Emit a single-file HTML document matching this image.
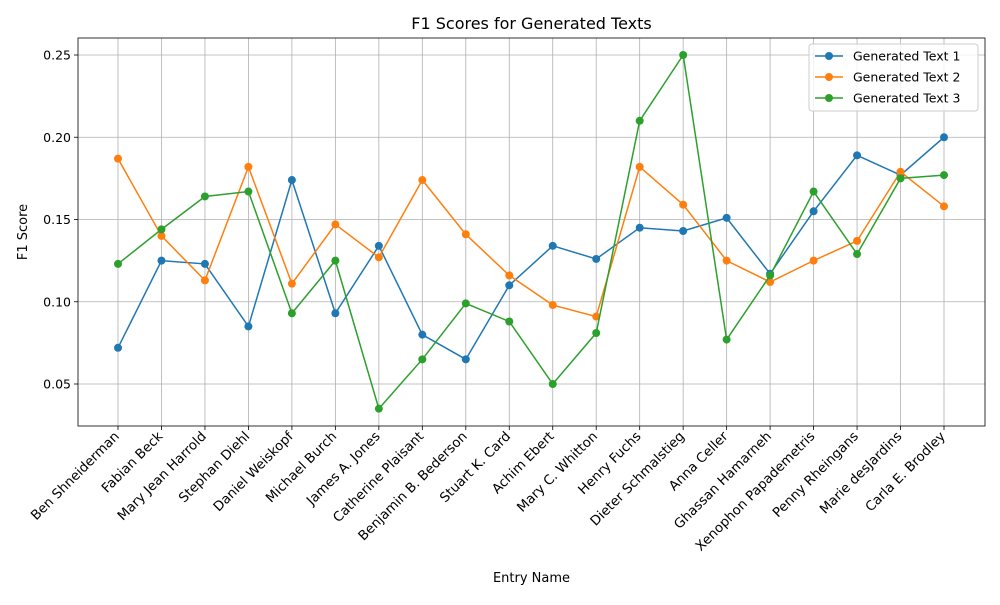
<!DOCTYPE html>
<html><head><meta charset="utf-8"><style>
body{margin:0;background:#fff;font-family:"Liberation Sans","DejaVu Sans",sans-serif}
svg text{font-family:"DejaVu Sans","Liberation Sans",sans-serif;fill:#000}
</style></head><body>
<svg id="chart" width="1000" height="600">
<rect width="1000" height="600" fill="#fff"/>
</svg>
<script>
const categories=["Ben Shneiderman","Fabian Beck","Mary Jean Harrold","Stephan Diehl","Daniel Weiskopf","Michael Burch","James A. Jones","Catherine Plaisant","Benjamin B. Bederson","Stuart K. Card","Achim Ebert","Mary C. Whitton","Henry Fuchs","Dieter Schmalstieg","Anna Celler","Ghassan Hamarneh","Xenophon Papademetris","Penny Rheingans","Marie desJardins","Carla E. Brodley"];
const text1=[0.072,0.125,0.123,0.085,0.174,0.093,0.134,0.080,0.065,0.110,0.134,0.126,0.145,0.143,0.151,0.117,0.155,0.189,0.177,0.200];
const text2=[0.187,0.140,0.113,0.182,0.111,0.147,0.127,0.174,0.141,0.116,0.098,0.091,0.182,0.159,0.125,0.112,0.125,0.137,0.179,0.158];
const text3=[0.123,0.144,0.164,0.167,0.093,0.125,0.035,0.065,0.099,0.088,0.050,0.081,0.210,0.250,0.077,0.116,0.167,0.129,0.175,0.177];
const yTicks=[0.05,0.10,0.15,0.20,0.25];
const seriesNames=["Generated Text 1","Generated Text 2","Generated Text 3"];
const colors=["#1f77b4","#ff7f0e","#2ca02c"];
const L=78,R=985,T=38,B=426;
const ns="http://www.w3.org/2000/svg";
const svg=document.getElementById('chart');
function xs(i){return 118+i*(944-118)/(categories.length-1);}
function ys(v){return 55+(0.25-v)*(384-55)/0.20;}
function mk(tag,attrs,parent){const e=document.createElementNS(ns,tag);for(const k in attrs)e.setAttribute(k,attrs[k]);(parent||svg).appendChild(e);return e;}
const grid=mk('g',{});


categories.forEach((c,i)=>{const x=xs(i);
mk('line',{x1:x,x2:x,y1:T,y2:B,stroke:'#b0b0b0','stroke-width':0.8},grid);
mk('line',{x1:x,x2:x,y1:B,y2:B+4,stroke:'#000','stroke-width':0.8});
const t=mk('text',{x:x+2,y:B+11,'font-size':13.3,'text-anchor':'end',transform:`rotate(-45 ${x+2} ${B+11})`});


t.textContent=c;});
yTicks.forEach(v=>{const y=ys(v);
mk('line',{x1:L,x2:R,y1:y,y2:y,stroke:'#b0b0b0','stroke-width':0.8},grid);
mk('line',{x1:L-4,x2:L,y1:y,y2:y,stroke:'#000','stroke-width':0.8});
const t=mk('text',{x:L-7,y:y+4.5,'font-size':12.5,'text-anchor':'end'});


t.textContent=v.toFixed(2);});
[text1,text2,text3].forEach((d,s)=>{const g=mk('g',{});


mk('polyline',{points:d.map((v,i)=>xs(i)+','+ys(v)).join(' '),fill:'none',stroke:colors[s],'stroke-width':1.5},g);
d.forEach((v,i)=>{const c=mk('circle',{cx:xs(i),cy:ys(v),r:4,fill:colors[s]},g);

});});
const frame=mk('rect',{x:L,y:T,width:R-L,height:B-T,fill:'none',stroke:'#000','stroke-width':0.8});


const title=mk('text',{x:(L+R)/2,y:29,'font-size':16,'text-anchor':'middle'});


title.textContent='F1 Scores for Generated Texts';
const xt=mk('text',{x:(L+R)/2,y:582,'font-size':13,'text-anchor':'middle'});


xt.textContent='Entry Name';
const yt=mk('text',{x:27,y:(T+B)/2,'font-size':13,'text-anchor':'middle',transform:`rotate(-90 27 ${(T+B)/2})`});


yt.textContent='F1 Score';
const lg=mk('g',{});


mk('rect',{x:809,y:44,width:169,height:67,rx:3,fill:'#fff','fill-opacity':0.8,stroke:'#ccc'},lg);
seriesNames.forEach((n,s)=>{const y=56+s*21;
const e=mk('g',{},lg);


mk('line',{x1:815,x2:843,y1:y,y2:y,stroke:colors[s],'stroke-width':1.5},e);
mk('circle',{cx:829,cy:y,r:4,fill:colors[s]},e);
const t=mk('text',{x:853,y:y+4.5,'font-size':12.5},e);t.textContent=n;});
</script>
</body></html>
